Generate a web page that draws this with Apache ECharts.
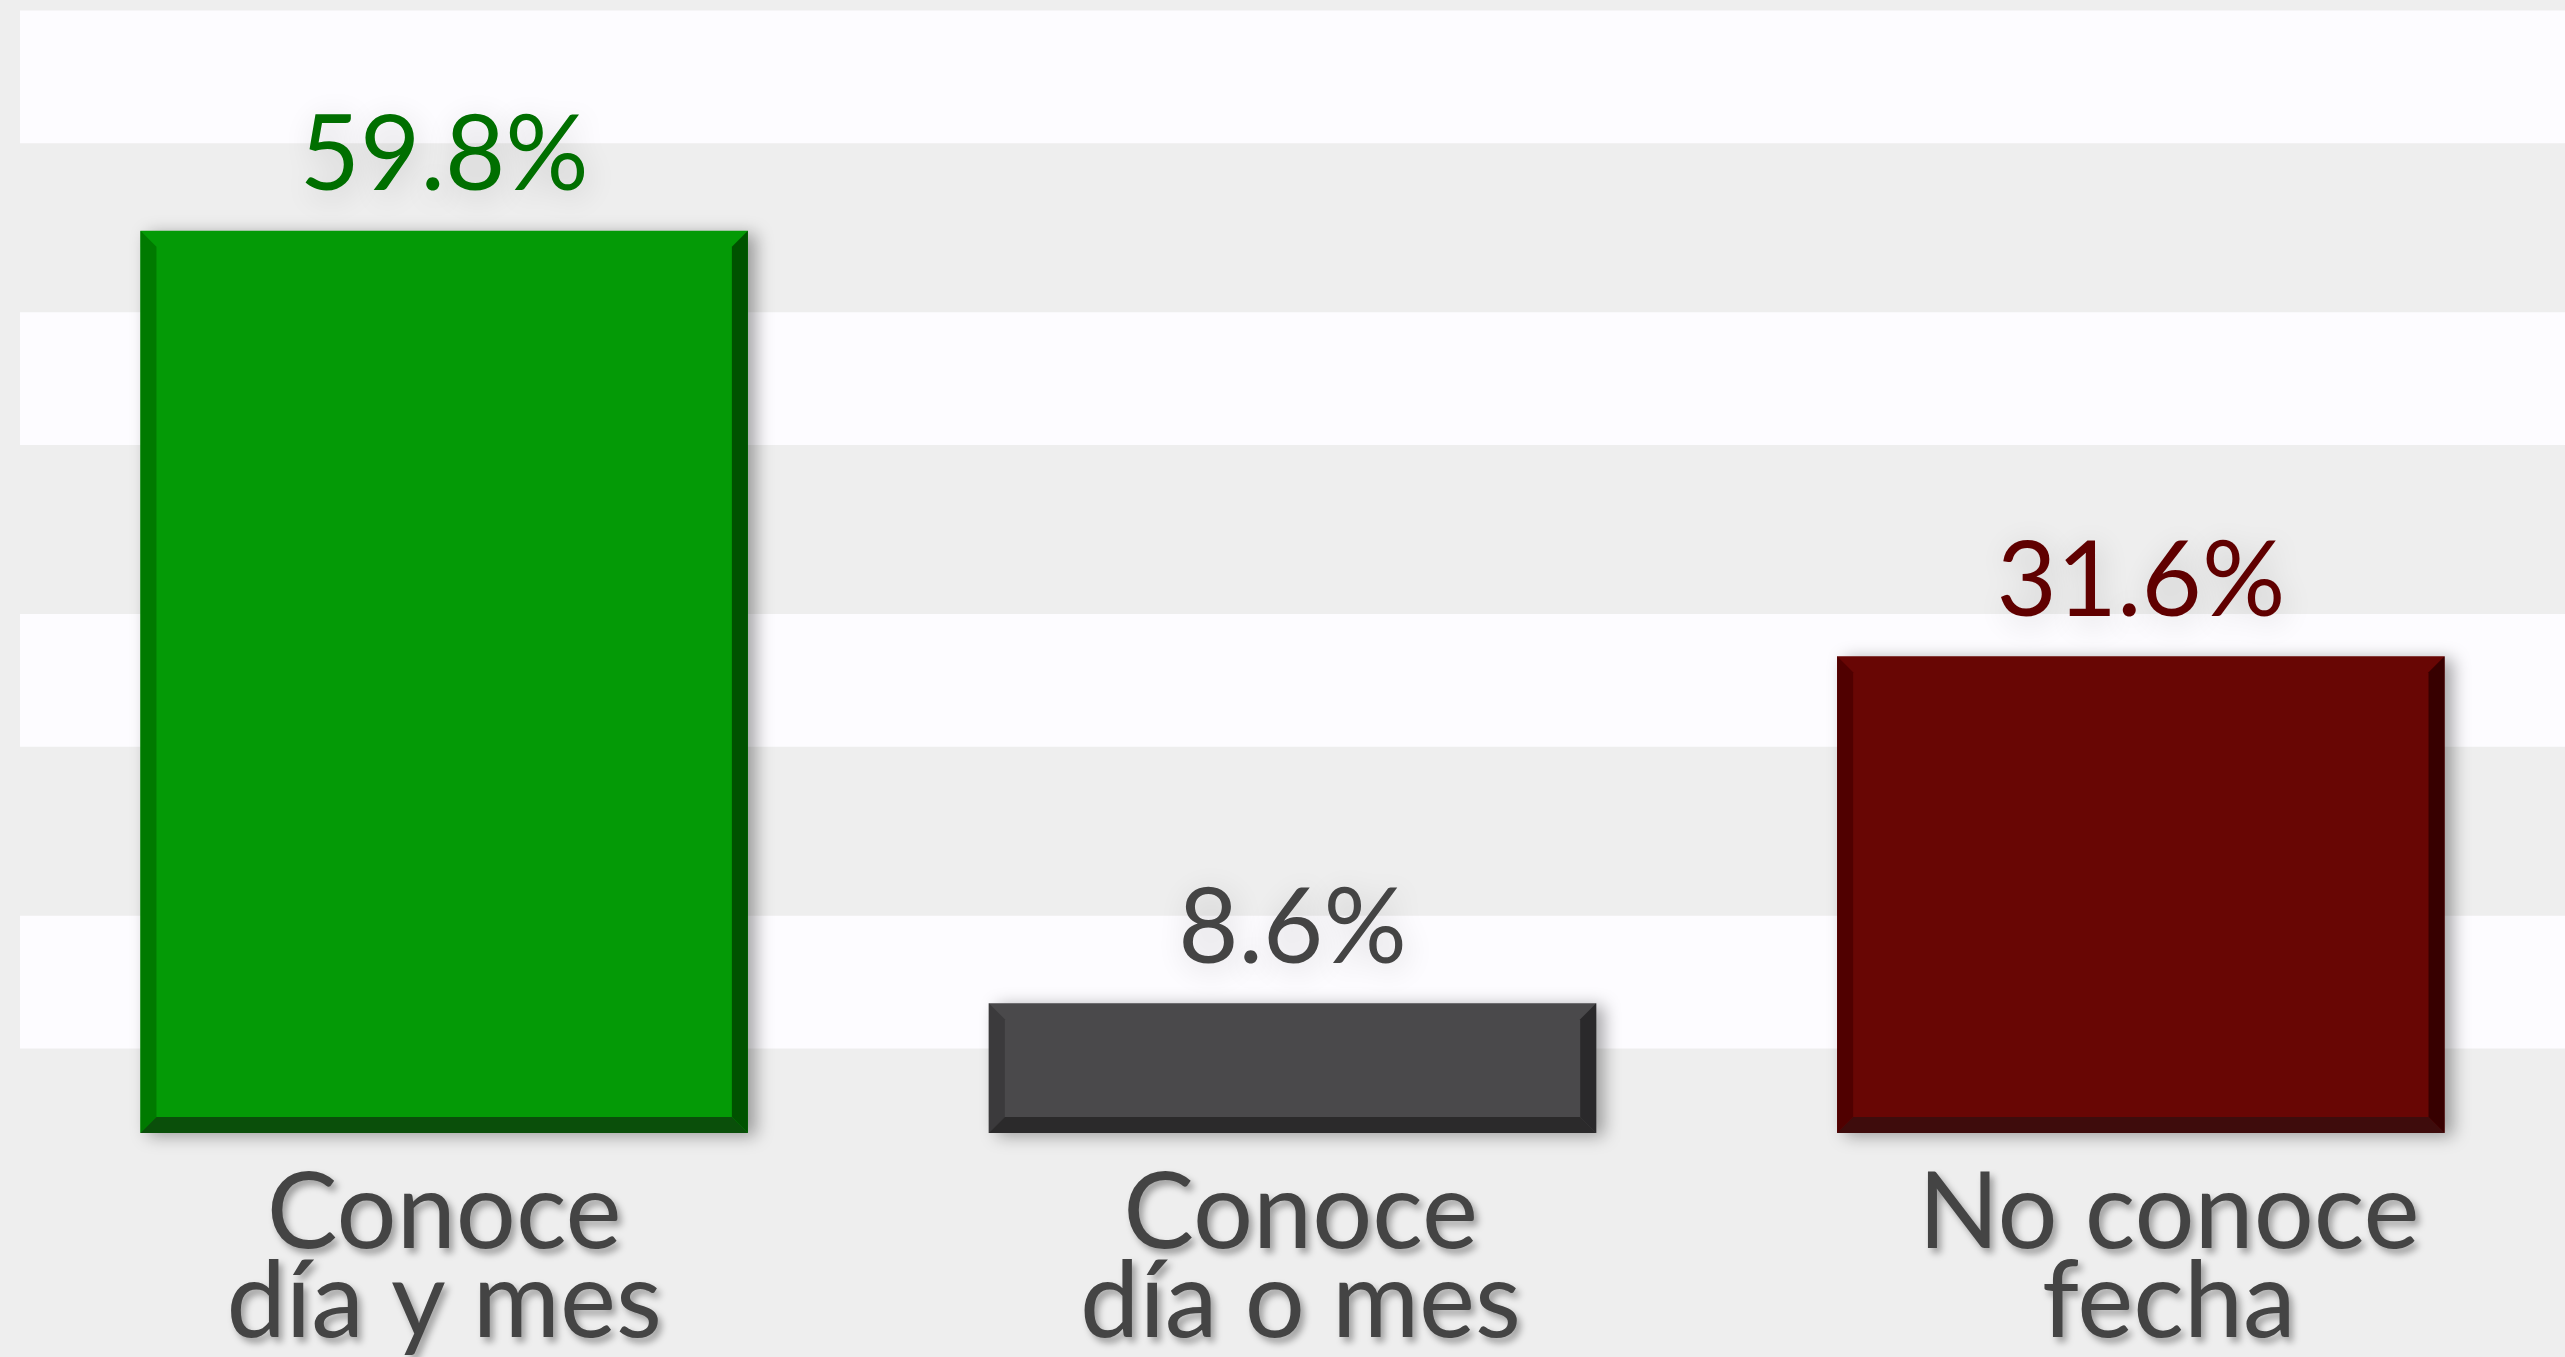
<!DOCTYPE html>
<html>
<head>
<meta charset="utf-8">
<title>Conoce fecha</title>
<style>
  html, body { margin: 0; padding: 0; background: #eeeeee; }
  #chart { width: 2565px; height: 1357px; }
</style>
<script src="https://cdn.jsdelivr.net/npm/echarts@6.0.0/dist/echarts.min.js"></script>
</head>
<body>
<div id="chart"></div>
<script>
const categories = ['Conoce\ndía y mes', 'Conoce\ndía o mes', 'No conoce\nfecha']
const values = [59.8, 8.6, 31.6]
// white stripes sit around these values
const bandCenters = [10, 30, 50, 70]

// bar face + bevel shades, label colour
const palette = [
  { face: '#049a06', left: '#007a00', right: '#005200', bottom: '#0a4f0a', label: '#006f00' },
  { face: '#4a494b', left: '#3b3a3c', right: '#2a292b', bottom: '#2b2a2b', label: '#444444' },
  { face: '#680604', left: '#500000', right: '#370000', bottom: '#3e0c0c', label: '#600000' }
]
// the category texts drift a little to the right in the original
const labelPadLeft = [0, 16, 56]

const FONT = 'Lato, "Noto Sans", sans-serif'
const BEVEL = 16

function renderBar(params, api) {
  const idx = api.value(0)
  const val = api.value(1)
  const top = api.coord([idx, val])
  const base = api.coord([idx, 0])
  const w = api.size([1, 0])[0] * 0.716
  const x0 = top[0] - w / 2
  const x1 = top[0] + w / 2
  const y0 = top[1]
  const y1 = base[1]
  const b = Math.min(BEVEL, (y1 - y0) / 2)
  const c = palette[idx]
  return {
    type: 'group',
    children: [
      {
        type: 'rect',
        shape: { x: x0, y: y0, width: w, height: y1 - y0 },
        style: {
          fill: c.face,
          shadowBlur: 16,
          shadowOffsetX: 8,
          shadowOffsetY: 3,
          shadowColor: 'rgba(0,0,0,0.35)'
        }
      },
      { type: 'polygon', shape: { points: [[x0, y0], [x0 + b, y0 + b], [x0 + b, y1 - b], [x0, y1]] }, style: { fill: c.left } },
      { type: 'polygon', shape: { points: [[x1, y0], [x1, y1], [x1 - b, y1 - b], [x1 - b, y0 + b]] }, style: { fill: c.right } },
      { type: 'polygon', shape: { points: [[x0, y1], [x0 + b, y1 - b], [x1 - b, y1 - b], [x1, y1]] }, style: { fill: c.bottom } },
      {
        type: 'text',
        x: top[0],
        y: y0 - 22,
        style: {
          text: val.toFixed(1) + '%',
          fill: c.label,
          fontSize: 104,
          fontFamily: FONT,
          align: 'center',
          verticalAlign: 'bottom',
          textShadowBlur: 30,
          textShadowColor: 'rgba(0,0,0,0.16)',
          textShadowOffsetX: 3,
          textShadowOffsetY: 6
        }
      }
    ]
  }
}

const chart = echarts.init(document.getElementById('chart'))
const option = {
  backgroundColor: '#eeeeee',
  animation: false,
  grid: {
    left: 20,
    right: -9,
    top: 0,
    bottom: 224
  },
  xAxis: {
    type: 'category',
    data: categories.map((name, i) => ({
      value: name,
      textStyle: { padding: [0, 0, 0, labelPadLeft[i]] }
    })),
    axisLine: { show: false },
    axisTick: { show: false },
    axisLabel: {
      interval: 0,
      margin: 36,
      color: '#444444',
      fontSize: 106,
      lineHeight: 89,
      fontFamily: FONT,
      textShadowBlur: 7,
      textShadowColor: 'rgba(0,0,0,0.35)',
      textShadowOffsetX: 4,
      textShadowOffsetY: 5
    }
  },
  yAxis: {
    type: 'value',
    min: 0,
    max: 75.1,
    show: false,
    splitLine: { show: false }
  },
  series: [
    {
      type: 'custom',
      renderItem: renderBar,
      clip: false,
      encode: { x: 0, y: 1 },
      data: values.map((v, i) => [i, v]),
      markArea: {
        silent: true,
        itemStyle: { color: '#fdfcff' },
        data: bandCenters.map(c => [{ yAxis: c - 4.4 }, { yAxis: c + 4.4 }])
      }
    }
  ]
}
chart.setOption(option)
</script>
</body>
</html>
